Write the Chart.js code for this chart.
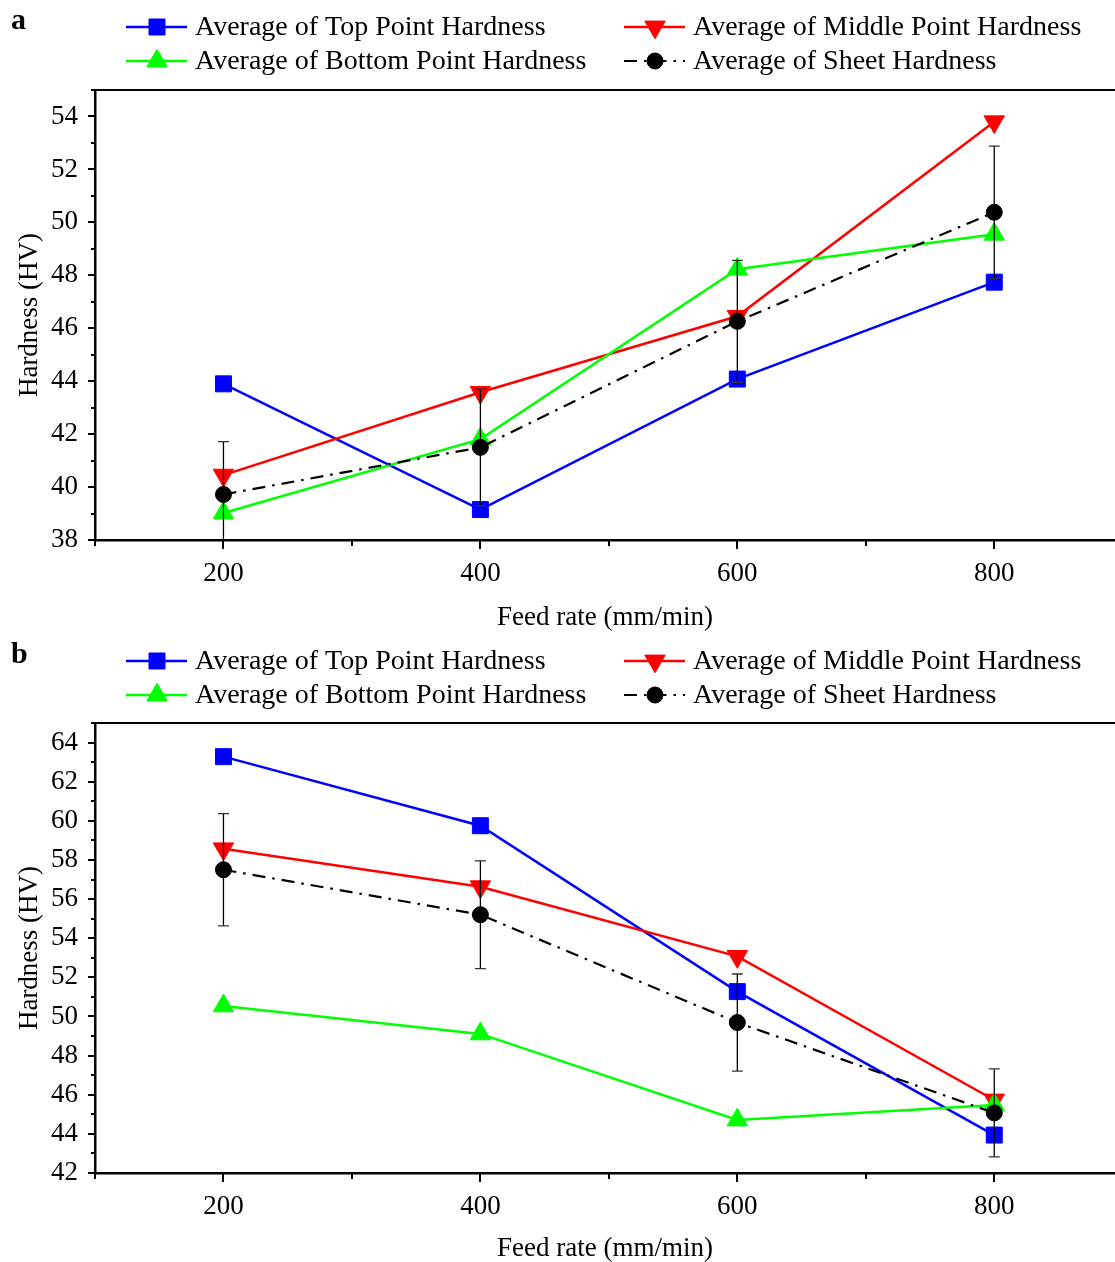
<!DOCTYPE html>
<html>
<head>
<meta charset="utf-8">
<title>Hardness vs feed rate</title>
<script src="https://cdn.jsdelivr.net/npm/chart.js@4.4.0/dist/chart.umd.min.js"></script>
<style>
  html, body { margin: 0; padding: 0; background: #fff; overflow: hidden; }
  canvas { display: block; }
</style>
</head>
<body>
<canvas id="chart-a" width="1115" height="634"></canvas>
<canvas id="chart-b" width="1115" height="634"></canvas>
<script>
"use strict";
const feedRates = [200, 400, 600, 800];
const seriesNames = [
    "Average of Top Point Hardness",
    "Average of Middle Point Hardness",
    "Average of Bottom Point Hardness",
    "Average of Sheet Hardness",
];
// panel a
const topA = [43.9, 39.15, 44.08, 47.74];
const middleA = [40.45, 43.58, 46.45, 53.8];
const bottomA = [39.02, 41.81, 48.23, 49.55];
const sheetA = [39.72, 41.5, 46.26, 50.38];
const sheetErrA = [2.0, 2.2, 2.3, 2.5];
// panel b
const topB = [63.28, 59.75, 51.27, 43.94];
const middleB = [58.57, 56.63, 53.07, 45.73];
const bottomB = [50.54, 49.11, 44.71, 45.48];
const sheetB = [57.5, 55.2, 49.69, 45.07];
const sheetErrB = [2.87, 2.75, 2.48, 2.25];
// axis ranges and tick marks (labels only on every second one)
const xRange = [100, 894];
const xTickValues = [100, 200, 300, 400, 500, 600, 700, 800];
const yRangeA = [38, 55];
const yRangeB = [42, 65];

const FONT = "'Liberation Serif', 'Times New Roman', serif";
Chart.defaults.font.family = FONT;
Chart.defaults.font.size = 27;
Chart.defaults.color = "#000";

const toPoints = (values) => feedRates.map((f, i) => ({ x: f, y: values[i] }));

const makeDatasets = (top, middle, bottom, sheet, sheetErr) => [
    {
        label: seriesNames[0],
        data: toPoints(top),
        borderColor: "#0000ff",
        backgroundColor: "#0000ff",
        pointStyle: "rect",
        pointRadius: 11.3,
        order: 3,
    },
    {
        label: seriesNames[1],
        data: toPoints(middle),
        borderColor: "#ff0000",
        backgroundColor: "#ff0000",
        pointStyle: "triangle",
        pointRotation: 180,
        pointRadius: 11.8,
        order: 2,
    },
    {
        label: seriesNames[2],
        data: toPoints(bottom),
        borderColor: "#00ff00",
        backgroundColor: "#00ff00",
        pointStyle: "triangle",
        pointRadius: 11.8,
        order: 1,
    },
    {
        label: seriesNames[3],
        data: toPoints(sheet),
        errors: sheetErr,
        borderColor: "#000000",
        backgroundColor: "#000000",
        pointStyle: "circle",
        pointRadius: 8,
        borderWidth: 2.2,
        borderDash: [13, 7, 2.5, 7],
        order: 0,
    },
].map((ds) => Object.assign({
    borderWidth: 2.5,
    pointBorderWidth: 1,
    pointBorderColor: ds.borderColor,
    pointHoverRadius: ds.pointRadius,
    tension: 0,
}, ds));

// error bars of the sheet average
const errorBars = {
    id: "errorBars",
    afterDatasetsDraw(chart) {
        const { ctx, chartArea, scales } = chart;
        ctx.save();
        ctx.beginPath();
        ctx.rect(chartArea.left, chartArea.top, chartArea.right - chartArea.left, chartArea.bottom - chartArea.top);
        ctx.clip();
        chart.data.datasets.forEach((ds) => {
            if (!ds.errors) {
                return;
            }
            ds.data.forEach((pt, i) => {
                const x = scales.x.getPixelForValue(pt.x);
                const yHi = scales.y.getPixelForValue(pt.y + ds.errors[i]);
                const yLo = scales.y.getPixelForValue(pt.y - ds.errors[i]);
                ctx.strokeStyle = "#000";
                ctx.lineWidth = 1.3;
                ctx.beginPath();
                ctx.moveTo(x, yHi);
                ctx.lineTo(x, yLo);
                ctx.stroke();
                ctx.strokeStyle = "#333";
                ctx.beginPath();
                ctx.moveTo(x - 5.5, yHi);
                ctx.lineTo(x + 5.5, yHi);
                ctx.moveTo(x - 5.5, yLo);
                ctx.lineTo(x + 5.5, yLo);
                ctx.stroke();
            });
        });
        ctx.restore();
    },
};

// outward ticks (short minor ones) and the top frame line
const axisDecor = {
    id: "axisDecor",
    afterDraw(chart) {
        const { ctx, chartArea, scales } = chart;
        ctx.save();
        ctx.strokeStyle = "#000";
        ctx.lineWidth = 2;
        ctx.beginPath();
        ctx.moveTo(chartArea.left - 1, chartArea.top);
        ctx.lineTo(chartArea.right, chartArea.top);
        scales.x.ticks.forEach((t) => {
            const px = Math.round(scales.x.getPixelForValue(t.value));
            const len = t.value % 200 === 0 ? 9 : 6;
            ctx.moveTo(px, chartArea.bottom);
            ctx.lineTo(px, chartArea.bottom + len);
        });
        scales.y.ticks.forEach((t) => {
            const py = Math.round(scales.y.getPixelForValue(t.value));
            const len = t.value % 2 === 0 ? 7 : 4;
            ctx.moveTo(chartArea.left, py);
            ctx.lineTo(chartArea.left - len, py);
        });
        ctx.stroke();
        ctx.restore();
    },
};

// two-column legend above the plot plus the panel letter
const panelLegend = {
    id: "panelLegend",
    afterDraw(chart, args, opts) {
        const { ctx } = chart;
        const cols = [126, 624];
        const rows = [27, 61];
        ctx.save();
        ctx.fillStyle = "#000";
        ctx.textAlign = "left";
        ctx.textBaseline = "alphabetic";
        ctx.font = "bold 30px " + FONT;
        ctx.fillText(opts.letter, 11, 29);
        ctx.font = "28px " + FONT;
        ctx.textBaseline = "middle";
        chart.data.datasets.forEach((ds, i) => {
            const x0 = cols[i % 2];
            const y = rows[Math.floor(i / 2)];
            ctx.strokeStyle = ds.borderColor;
            ctx.lineWidth = ds.borderWidth;
            ctx.setLineDash(ds.borderDash || []);
            ctx.beginPath();
            ctx.moveTo(x0, y);
            ctx.lineTo(x0 + 61, y);
            ctx.stroke();
            ctx.setLineDash([]);
            ctx.fillStyle = ds.backgroundColor;
            ctx.strokeStyle = ds.borderColor;
            ctx.lineWidth = 1;
            Chart.helpers.drawPoint(ctx, {
                pointStyle: ds.pointStyle,
                rotation: ds.pointRotation || 0,
                radius: ds.pointRadius,
                borderWidth: 1,
            }, x0 + 31, y);
            ctx.fillStyle = "#000";
            ctx.fillText(ds.label, x0 + 69, y + 1);
        });
        ctx.restore();
    },
};

const makeConfig = (datasets, yRange, letter, plotTop, xAxisHeight, titlePad) => ({
    type: "line",
    data: { datasets: datasets },
    options: {
        responsive: false,
        animation: false,
        layout: { autoPadding: false, padding: { top: plotTop, left: 0, right: 0, bottom: 0 } },
        plugins: {
            legend: { display: false },
            tooltip: { enabled: false },
            panelLegend: { letter: letter },
        },
        scales: {
            x: {
                type: "linear",
                bounds: "data",
                min: xRange[0],
                max: xRange[1],
                afterBuildTicks: (scale) => {
                    scale.ticks = xTickValues.map((value) => ({ value: value }));
                },
                afterFit: (scale) => {
                    scale.height = xAxisHeight;
                    scale.paddingLeft = 0;
                    scale.paddingRight = 0;
                },
                ticks: {
                    padding: 9,
                    maxRotation: 0,
                    autoSkip: false,
                    callback: (v) => (v % 200 === 0 ? String(v) : ""),
                },
                grid: { drawOnChartArea: false, tickLength: 9, color: "rgba(0,0,0,0)" },
                border: { color: "#000", width: 2.5 },
                title: { display: true, text: "Feed rate (mm/min)", padding: { top: 0, bottom: titlePad } },
            },
            y: {
                min: yRange[0],
                max: yRange[1],
                afterFit: (scale) => { scale.width = 95; },
                ticks: {
                    stepSize: 1,
                    padding: 10,
                    autoSkip: false,
                    callback: (v) => (v % 2 === 0 ? String(v) : ""),
                },
                grid: { drawOnChartArea: false, tickLength: 7, color: "rgba(0,0,0,0)" },
                border: { color: "#000", width: 2.5 },
                title: { display: true, text: "Hardness (HV)", padding: { top: 14, bottom: 0 } },
            },
        },
    },
    plugins: [errorBars, axisDecor, panelLegend],
});

const loadCharts = () => {
    const canvasA = document.getElementById("chart-a");
    const canvasB = document.getElementById("chart-b");
    if (!canvasA || !canvasB) {
        return;
    }
    new Chart(canvasA, makeConfig(makeDatasets(topA, middleA, bottomA, sheetA, sheetErrA), yRangeA, "a", 90, 94, 0));
    new Chart(canvasB, makeConfig(makeDatasets(topB, middleB, bottomB, sheetB, sheetErrB), yRangeB, "b", 89, 95, 3));
};
window.addEventListener("load", loadCharts);
</script>
</body>
</html>
